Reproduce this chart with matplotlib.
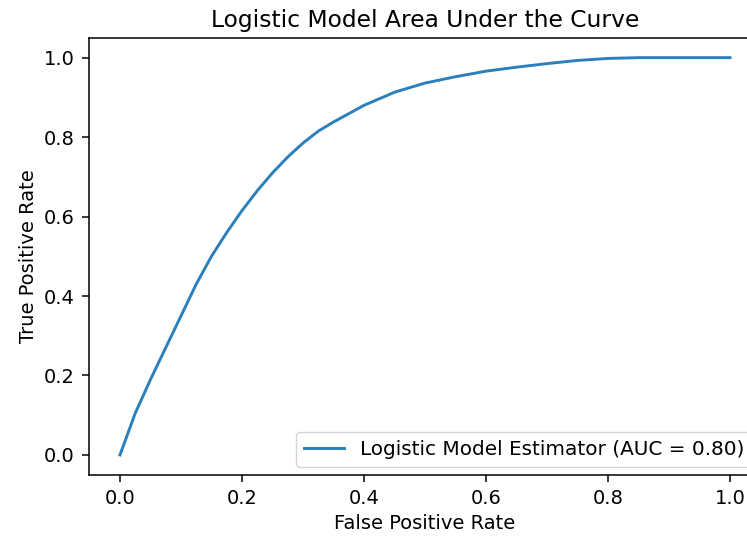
import matplotlib
matplotlib.use("Agg")
import matplotlib.pyplot as plt

# Punti della curva ROC
fpr = [0.0, 0.025, 0.05, 0.075, 0.1, 0.125, 0.15, 0.175, 0.2, 0.225,
       0.25, 0.275, 0.3, 0.325, 0.35, 0.4, 0.45, 0.5, 0.55, 0.6,
       0.65, 0.7, 0.75, 0.8, 0.85, 0.9, 1.0]
tpr = [0.0, 0.105, 0.19, 0.27, 0.35, 0.43, 0.50, 0.56, 0.615, 0.665,
       0.71, 0.75, 0.785, 0.815, 0.838, 0.88, 0.913, 0.936, 0.952, 0.966,
       0.976, 0.985, 0.993, 0.998, 1.0, 1.0, 1.0]
auc = 0.80
model_name = "Logistic Model Estimator"

plt.rcParams['font.size'] = 14
plt.rcParams['axes.linewidth'] = 1.1
plt.rcParams['xtick.major.size'] = 5
plt.rcParams['ytick.major.size'] = 5
plt.rcParams['xtick.major.width'] = 1.1
plt.rcParams['ytick.major.width'] = 1.1
plt.rcParams['xtick.major.pad'] = 5.5
plt.rcParams['ytick.major.pad'] = 5.5

fig = plt.figure(figsize=(7.47, 5.39), dpi=100)
# l'immagine originale e' tagliata a destra, quindi gli assi escono dalla figura
ax = fig.add_axes([0.1198, 0.1191, 0.8983, 0.8108])

ax.plot(fpr, tpr, color="#2b7fbb", linewidth=2.1,
        label=f"{model_name} (AUC = {auc:.2f})")
ax.set_xlabel("False Positive Rate")
ax.set_ylabel("True Positive Rate")
ax.set_title("Logistic Model Area Under the Curve", fontsize=16.8, pad=8)
ax.legend(loc="lower right", bbox_to_anchor=(1.003, -0.006), fontsize=14.4)

fig.savefig("out.png", dpi=100)
